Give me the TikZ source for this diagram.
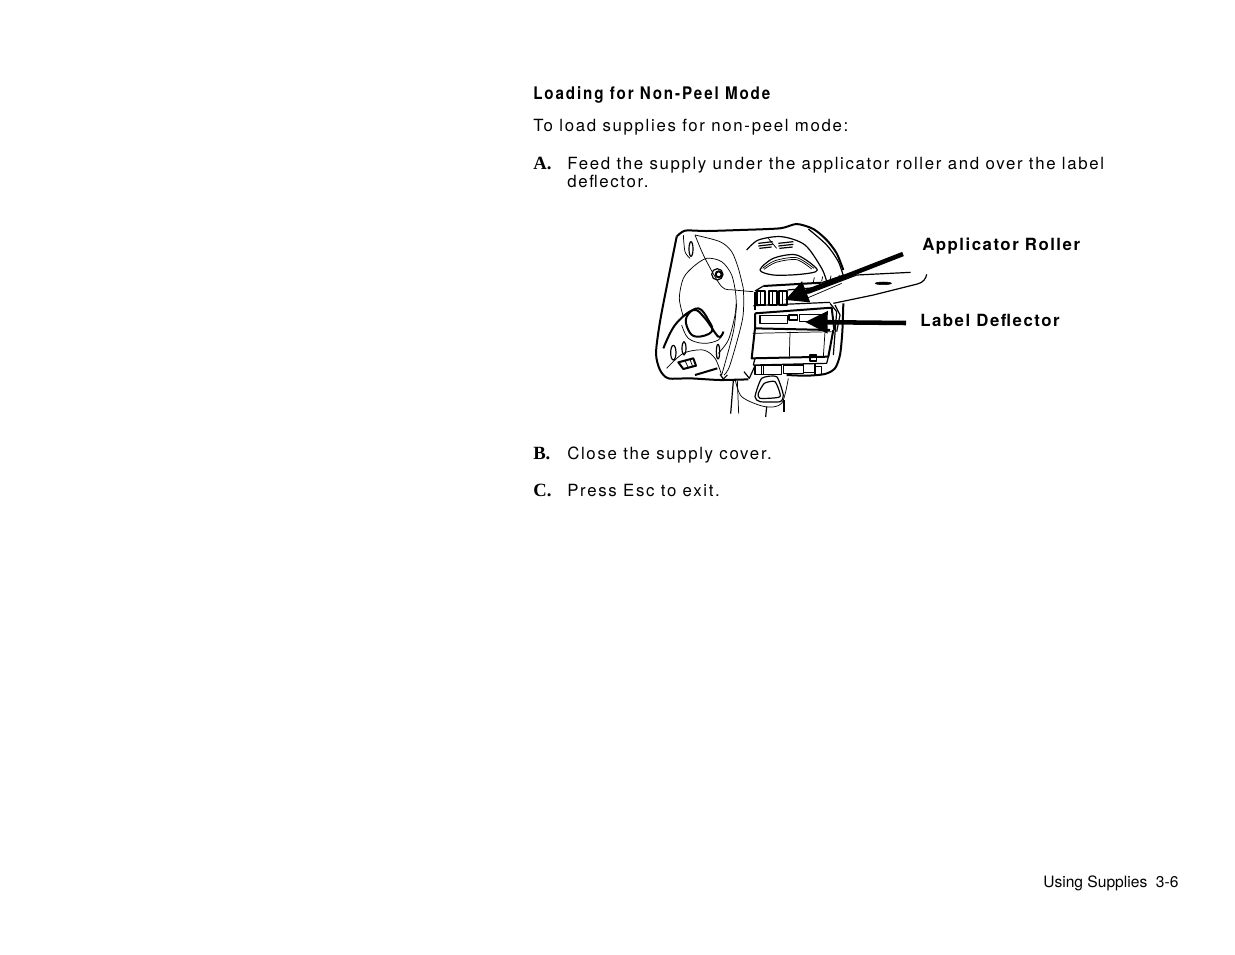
\documentclass[tikz,border=0pt]{standalone}
\usepackage{fontspec}
\setmainfont{TeX Gyre Heros}
\newfontfamily\bodyfont[LetterSpace=10]{TeX Gyre Heros}
\newfontfamily\headfont[LetterSpace=11,FakeStretch=0.875]{TeX Gyre Heros Bold}
\newfontfamily\calloutfont[LetterSpace=9]{TeX Gyre Heros Bold}
\newfontfamily\stepfont{Liberation Serif Bold}
\usetikzlibrary{arrows.meta}
\tikzset {
  % body text of the page
  body/.style = {anchor=base west, inner sep=0pt, font=\bodyfont\fontsize{12.6}{15}\selectfont},
  head/.style = {anchor=base west, inner sep=0pt, font=\headfont\fontsize{13}{15}\selectfont},
  callout/.style = {anchor=base west, inner sep=0pt, font=\calloutfont\fontsize{12.6}{15}\selectfont},
  steplabel/.style = {anchor=base west, inner sep=0pt, font=\stepfont\fontsize{14}{15}\selectfont},
  foot/.style = {anchor=base west, inner sep=0pt, font=\fontsize{11.7}{14}\selectfont},
  % line art of the printer
  outline/.style = {line width=1.5pt, line join=round},
  thinline/.style = {line width=.55pt, line join=round},
  midline/.style = {line width=.9pt, line join=round},
  % big black pointers
  pointer/.style = {line width=3.4pt, -{Triangle[length=17pt,width=16pt]}},
}
\begin{document}
\begin{tikzpicture}[x=.75pt,y=-.75pt]
  \useasboundingbox (0,0) rectangle (1235,954);

  \node[head] (title) at (533,99) {Loading for Non-Peel Mode};
  \node[body] (intro) at (533,131) {To load supplies for non-peel mode:};
  \node[steplabel] (stepa) at (533,169) {A.};
  \node[body] (feed) at (567,169) {Feed the supply under the applicator roller and over the label};
  \node[body] (feedb) at (567,187) {deflector.};
  \node[steplabel] (stepb) at (533,459) {B.};
  \node[body] (close) at (567,459) {Close the supply cover.};
  \node[steplabel] (stepc) at (533,496) {C.};
  \node[body] (press) at (567,496) {Press Esc to exit.};
  \node[foot] (pagefoot) at (1043,887) {Using Supplies\ \ 3-6};

  % printer drawing, units are a third of a pixel
  \begin{scope}[shift={(640,215)},x=.25pt,y=-.25pt]
    % housing
    \draw[outline] plot[smooth,tension=.45] coordinates {(110,65) (135,47) (200,48) (300,45) (420,40) (470,27) (520,42) (560,75) (590,115) (610,165)};
    \draw[outline] plot[smooth,tension=.45] coordinates {(610,265) (607,350) (600,420) (585,460) (555,477) (500,482) (440,480)};
    \draw[outline] plot[smooth,tension=.45] coordinates {(325,493) (240,495) (150,490) (85,490) (60,465) (48,415) (60,320) (85,190) (110,65)};
    \draw[midline] plot[smooth] coordinates {(505,42) (560,90) (595,140) (612,190)};
    % side cover
    \draw[thinline] plot[smooth] coordinates {(130,60) (135,110) (150,130)};
    \draw[thinline] plot[smooth] coordinates {(165,60) (240,80) (275,110) (295,160) (310,220)};
    \draw[thinline] plot[smooth] coordinates {(165,60) (195,130) (245,215) (285,225) (340,230)};
    \draw[thinline] plot[smooth] coordinates {(290,265) (280,350) (245,480)};
    \draw[thinline] plot[smooth] coordinates {(310,220) (308,310) (270,450) (252,480)};
    \draw[thinline] plot[smooth] coordinates {(235,415) (265,375) (285,300) (288,245) (275,180) (245,140) (200,130) (160,155) (130,190) (118,250) (130,305)};
    \draw[midline] (153,102) ellipse (6 and 22);
    \draw[midline] (232,178) circle (17);
    \draw[outline] (236,178) circle (9);
    % hub on the cover
    \draw[outline] plot[smooth,tension=.6] coordinates {(70,400) (105,330) (160,285) (195,310) (235,365) (250,350)};
    \draw[thinline] plot[smooth,tension=.6] coordinates {(125,330) (145,370) (190,385) (235,375) (250,350)};
    \draw[outline] plot[smooth cycle,tension=.7] coordinates {(140,305) (175,280) (205,315) (215,350) (170,365) (145,345)};
    \draw[thinline] plot[smooth] coordinates {(80,460) (130,415) (190,405) (225,430) (245,480)};
    \draw[midline] (100,413) ellipse (8 and 22);
    \draw[midline] (132,400) ellipse (6 and 20);
    \draw[midline] (234,410) ellipse (5 and 22);
    \draw[outline] (115,442) -- (160,430) -- (168,452) -- (130,462) -- cycle;
    \draw[thinline] (135,437) -- (145,458) (150,433) -- (158,455);
    \draw[outline] (165,480) -- (232,460);
    \draw[midline] (240,478) -- (250,492) -- (262,480);
    % top of the body, vents and grip
    \draw[midline] (355,85) -- (398,80) (355,93) -- (398,88) (358,100) -- (395,96);
    \draw[midline] (415,85) -- (460,80) (415,93) -- (460,88) (418,100) -- (458,96);
    \draw[thinline] (385,70) -- (410,100);
    \draw[midline] plot[smooth cycle,tension=.5] coordinates {(360,165) (400,130) (470,120) (532,165) (480,178) (400,180)};
    \draw[thinline] plot[smooth] coordinates {(368,160) (405,137) (470,128) (522,160)};
    \draw[thinline] plot[smooth] coordinates {(372,163) (408,142) (470,134) (515,162)};
    \draw[midline] plot[smooth] coordinates {(320,105) (355,75) (425,65) (495,90) (545,160) (560,200)};
    % applicator roller area
    \draw[outline] (370,213) -- (545,203);
    \draw[midline] (545,203) -- (612,180);
    \draw[midline] (345,228) -- (370,213);
    \draw[midline] (345,232) -- (345,285);
    \foreach \rollx in {352,388,418} {
      \draw[outline] (\rollx,228) rectangle ++(24,42);
      \draw[thinline] (\rollx+9,228) -- ++(0,42);
    }
    \draw[midline] (442,225) -- (525,218);
    \draw[midline] (340,272) -- (570,262);
    % supply strip
    \draw[midline] (505,235) -- (650,180) -- (812,172);
    \draw[midline] (580,265) -- (700,240) -- (832,207) .. controls (850,203) and (858,190) .. (860,178);
    \draw[thinline] (500,250) -- (605,205);
    \foreach \tickx in {520,545,570,595} {
      \draw[thinline] (\tickx,228-\tickx/10+25) -- ++(3,-14);
    }
    \draw[fill=black] (730,205) ellipse (24 and 4);
    % label deflector
    \draw[outline] (345,295) -- (575,278) -- (583,345);
    \draw[outline] (345,295) -- (345,340) -- (570,345);
    \draw[midline] (360,302) rectangle (443,325);
    \draw[midline] (478,298) rectangle (560,320);
    \draw[midline] (447,300) rectangle (472,315);
    \draw[midline] (585,270) -- (600,300) -- (590,350);
    \draw[midline] (570,265) -- (590,290) -- (580,420);
    % door
    \draw[outline] (345,340) -- (335,430) -- (565,425) -- (580,345);
    \draw[thinline] (338,355) -- (575,350);
    \draw[thinline] (450,350) -- (448,427);
    \draw[thinline] (555,350) -- (550,425);
    % bottom latches
    \draw[midline] (345,430) -- (340,450) -- (560,445) -- (565,425);
    \draw[midline] (345,452) rectangle (370,478);
    \draw[midline] (365,450) rectangle (425,478);
    \draw[midline] (430,450) rectangle (490,476);
    \draw[midline] (490,445) rectangle (525,473);
    \draw[midline] (510,420) rectangle (530,438);
    \draw[midline] (525,455) rectangle (545,478);
    \draw[midline] (312,470) -- (328,490) -- (345,452);
    % handle
    \draw[midline] (280,497) -- (272,596);
    \draw[thinline] (292,497) -- (296,596);
    \draw[thinline] plot[smooth] coordinates {(285,490) (305,545) (375,575) (425,565) (445,490)};
    \draw[midline] (380,575) -- (377,606);
    \draw[outline] (433,555) -- (433,592);
    \draw[midline] plot[smooth cycle,tension=.35] coordinates {(365,490) (410,485) (430,540) (420,560) (360,560) (345,545)};
    \draw[midline] plot[smooth cycle,tension=.35] coordinates {(373,505) (405,500) (420,545) (360,550) (355,535)};
  \end{scope}

  % callouts with their pointers
  \node[callout] (roller) at (922,250) {Applicator Roller};
  \node[callout] (deflector) at (920,326) {Label Deflector};
  \coordinate (rollertail) at (903,254);
  \coordinate (rollertip) at (785,300);
  \coordinate (deflectortail) at (906,323);
  \coordinate (deflectortip) at (805,322);
  \draw[pointer] (rollertail) -- (rollertip);
  \draw[pointer] (deflectortail) -- (deflectortip);
\end{tikzpicture}
\end{document}
